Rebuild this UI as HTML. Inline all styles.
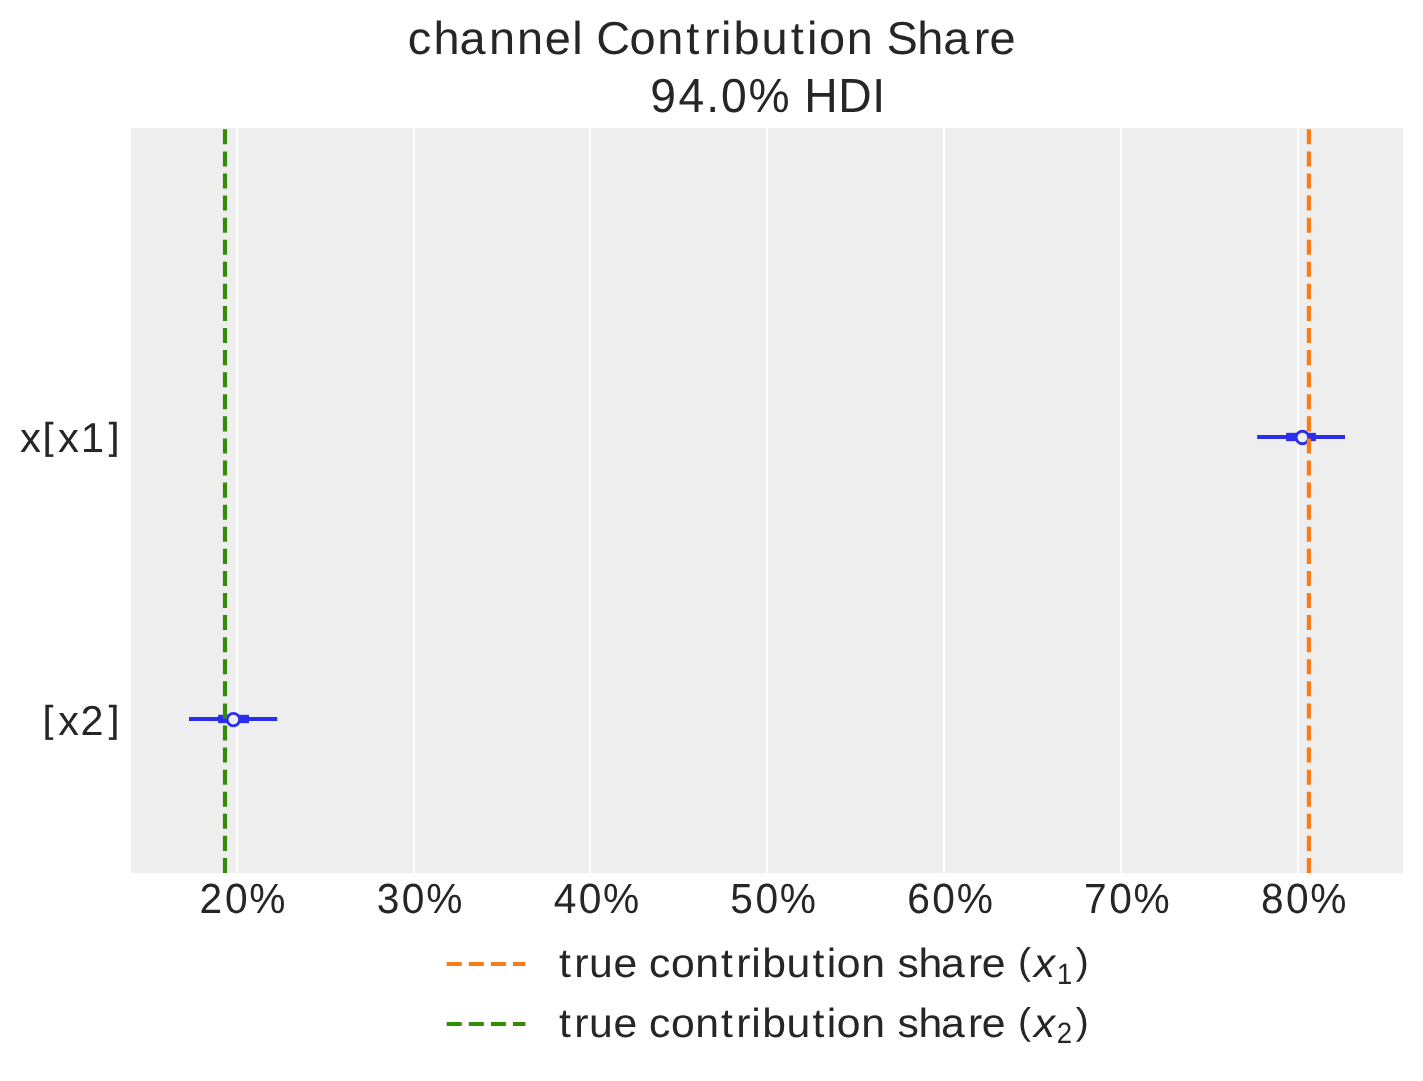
<!DOCTYPE html>
<html lang="en">
<head>
<meta charset="utf-8">
<title>channel Contribution Share</title>
<style>
html,body{margin:0;padding:0;background:#ffffff;}
body{width:1423px;height:1081px;overflow:hidden;font-family:"Liberation Sans",sans-serif;}
svg{display:block;will-change:transform;}
text{font-family:"Liberation Sans",sans-serif;fill:#262626;text-rendering:geometricPrecision;white-space:pre;}
</style>
</head>
<body>
<svg width="1423" height="1081" viewBox="0 0 1423 1081">
<rect x="0" y="0" width="1423" height="1081" fill="#ffffff"/>
<!-- axes background -->
<rect x="131" y="128" width="1272" height="745" fill="#eeeeee"/>
<!-- grid -->
<g stroke="#ffffff" stroke-width="2.2"><line x1="237" y1="128" x2="237" y2="873"/><line x1="414" y1="128" x2="414" y2="873"/><line x1="590" y1="128" x2="590" y2="873"/><line x1="767" y1="128" x2="767" y2="873"/><line x1="944" y1="128" x2="944" y2="873"/><line x1="1121" y1="128" x2="1121" y2="873"/><line x1="1298" y1="128" x2="1298" y2="873"/></g>
<!-- forest plot -->
<g stroke="#2a2eec" fill="none">
<line x1="1257.2" y1="437.0" x2="1345.0" y2="437.0" stroke-width="4.17"/>
<line x1="1286.1" y1="437.0" x2="1315.9" y2="437.0" stroke-width="8.33"/>
<circle cx="1302.4" cy="437.5" r="6.25" fill="#eeeeee" stroke-width="2.78"/>
<line x1="189.0" y1="719.0" x2="277.2" y2="719.0" stroke-width="4.17"/>
<line x1="218.1" y1="719.0" x2="249.0" y2="719.0" stroke-width="8.33"/>
<circle cx="233.4" cy="719.6" r="6.25" fill="#eeeeee" stroke-width="2.78"/>
</g>
<!-- reference lines -->
<line x1="1308.9" y1="873" x2="1308.9" y2="128" stroke="#fa7c17" stroke-width="4.17" stroke-dasharray="15.05 7.03"/>
<line x1="225.0" y1="873" x2="225.0" y2="128" stroke="#328c06" stroke-width="4.17" stroke-dasharray="15.05 7.03"/>
<!-- titles -->
<text transform="translate(0 54.00) scale(1.0179 1)" font-size="46.1px" x="400.69 425.80 451.33 480.29 507.96 535.20 562.31 573.49 585.71 618.40 645.70 674.26 691.51 708.25 720.73 748.06 776.85 792.89 804.61 831.91 858.45 871.03 901.10 926.63 956.62 972.15" y="0">channel Contribution Share</text>
<text transform="translate(0 112.00) scale(0.9674 1)" font-size="47.8px" x="672.09 701.47 730.03 745.31 773.77 816.87 831.47 866.53 901.52" y="0">94.0% HDI</text>
<!-- y tick labels -->
<text transform="translate(0 452.00) scale(1.0036 1)" font-size="41.8px" x="19.84 42.83 57.89 80.38 108.31" y="0 -3.1 0 0 -3.1">x<tspan font-size="37.3px" stroke="#262626" stroke-width="0.4">[</tspan>x1<tspan font-size="37.3px" stroke="#262626" stroke-width="0.4">]</tspan></text>
<text transform="translate(0 735.00) scale(0.9902 1)" font-size="41.8px" x="43.49 58.81 81.32 109.83" y="-3.1 0 0 -3.1"><tspan font-size="37.3px" stroke="#262626" stroke-width="0.4">[</tspan>x2<tspan font-size="37.3px" stroke="#262626" stroke-width="0.4">]</tspan></text>
<!-- x tick labels -->
<text transform="translate(0 913.00) scale(0.9680 1)" font-size="42.1px" x="206.06 232.44 257.61" y="0">20%</text>
<text transform="translate(0 913.00) scale(0.9680 1)" font-size="42.1px" x="389.33 415.12 440.29" y="0">30%</text>
<text transform="translate(0 913.00) scale(0.9680 1)" font-size="42.1px" x="571.95 597.79 622.97" y="0">40%</text>
<text transform="translate(0 913.00) scale(0.9680 1)" font-size="42.1px" x="754.48 780.47 805.64" y="0">50%</text>
<text transform="translate(0 913.00) scale(0.9680 1)" font-size="42.1px" x="937.31 963.14 988.32" y="0">60%</text>
<text transform="translate(0 913.00) scale(0.9680 1)" font-size="42.1px" x="1119.91 1145.82 1170.99" y="0">70%</text>
<text transform="translate(0 913.00) scale(0.9680 1)" font-size="42.1px" x="1302.66 1328.49 1353.67" y="0">80%</text>
<!-- legend -->
<line x1="446.7" y1="964.0" x2="525.4" y2="964.0" stroke="#fa7c17" stroke-width="4.17" stroke-dasharray="15.05 7.03"/>
<text transform="translate(0 976.70) scale(1.0523 1)" font-size="40.6px" x="531.21 545.73 559.74 582.98 605.57 616.87 637.66 660.77 685.16 699.68 713.99 724.27 747.42 772.00 785.63 795.29 818.40 841.31 852.79 872.77 894.35 919.90 932.92 955.50 967.33" y="0 0 0 0 0 0 0 0 0 0 0 0 0 0 0 0 0 0 0 0 0 0 0 0 -2.55">true contribution share <tspan font-size="37.2px">(</tspan></text>
<text transform="translate(0 976.70) scale(1.0522 1)" font-size="40.6px" x="982.49" y="0" font-style="italic">x</text>
<text transform="translate(0 983.50) scale(0.9323 1)" font-size="29.4px" x="1133.88" y="0">1</text>
<text transform="translate(0 974.15) scale(1.0523 1)" font-size="37.2px" x="1022.38" y="0">)</text>
<line x1="446.7" y1="1024.0" x2="525.4" y2="1024.0" stroke="#328c06" stroke-width="4.17" stroke-dasharray="15.05 7.03"/>
<text transform="translate(0 1036.50) scale(1.0523 1)" font-size="40.6px" x="531.21 545.73 559.74 582.98 605.57 616.87 637.66 660.77 685.16 699.68 713.99 724.27 747.42 772.00 785.63 795.29 818.40 841.31 852.79 872.77 894.35 919.90 932.92 955.50 967.33" y="0 0 0 0 0 0 0 0 0 0 0 0 0 0 0 0 0 0 0 0 0 0 0 0 -2.55">true contribution share <tspan font-size="37.2px">(</tspan></text>
<text transform="translate(0 1036.50) scale(1.0522 1)" font-size="40.6px" x="982.49" y="0" font-style="italic">x</text>
<text transform="translate(0 1043.30) scale(0.9401 1)" font-size="29.4px" x="1124.19" y="0">2</text>
<text transform="translate(0 1033.95) scale(1.0523 1)" font-size="37.2px" x="1022.38" y="0">)</text>
</svg>
</body>
</html>
